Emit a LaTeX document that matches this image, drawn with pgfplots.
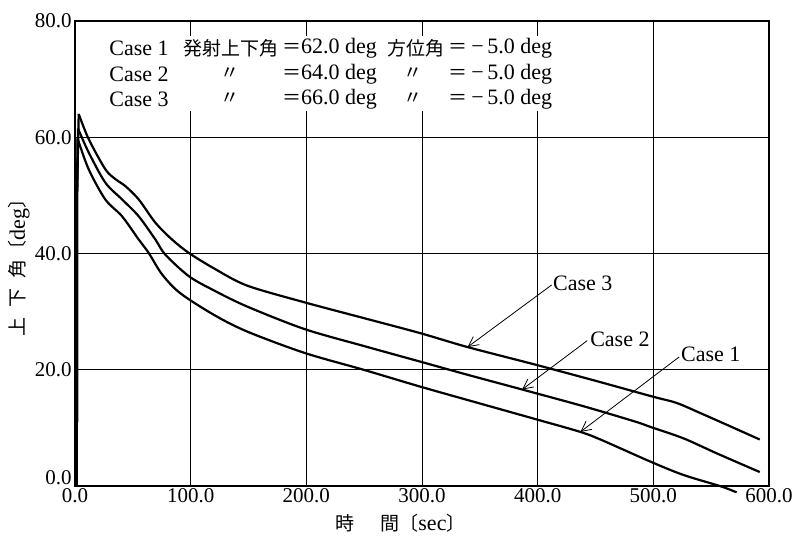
\documentclass[border=0pt]{standalone}
\usepackage{fontspec}
\setmainfont{Liberation Serif}
\newfontfamily\jp{Noto Sans CJK JP}
\usepackage{pgfplots}
\pgfplotsset{compat=1.18}
\usetikzlibrary{arrows.meta}

\newcommand{\lat}{\fontsize{11}{13}\selectfont}
\newcommand{\cjk}{\jp\fontsize{9.5}{11}\selectfont}

\begin{document}
\begin{tikzpicture}
\begin{axis}[
    scale only axis,
    width=347pt, height=232.5pt,
    xmin=0, xmax=600, ymin=0, ymax=80,
    xtick={0,100,...,600}, ytick={20,40,...,80},
    extra y ticks={0},
    extra y tick style={yticklabel style={yshift=4pt}},
    grid=major,
    major grid style={black, line width=0.45pt},
    major tick length=0pt,
    axis line style={line width=0.7pt},
    tick label style={font=\fontsize{10.5}{12}\selectfont},
    xticklabel style={inner sep=1pt},
    yticklabel style={inner sep=1.5pt},
    /pgf/number format/fixed,
    /pgf/number format/fixed zerofill,
    /pgf/number format/precision=1,
    /pgf/number format/1000 sep={},
    /pgf/number format/assume math mode=true,
    xlabel={{\cjk 時\hspace{13pt}間〔}{\lat sec}{\cjk 〕}},
    ylabel={{\cjk 上\hspace{5pt}下\hspace{5pt}角〔}{\lat deg}{\cjk 〕}},
    xlabel style={at={(axis description cs:0.469,-0.0796)}, anchor=center},
    ylabel style={at={(axis description cs:-0.0807,0.48)}, anchor=center},
    clip=false,
    curve/.style={black, line width=1.1pt},
]

% header box hides the grid
\fill[white] (axis cs:20,64.5) rectangle (axis cs:420,77.4);

% launch rise
\addplot[curve] coordinates {(1.6,0) (1.8,50) (3.2,64.0)};
\addplot[curve] coordinates {(1.6,0) (1.8,50) (2.6,61.5)};
\addplot[curve] coordinates {(1.6,0) (1.8,50) (2.2,59.8)};

% Case 3
\addplot[curve, smooth] coordinates {
 (3.2,64.0) (11.8,59.7) (26.2,54.5) (34.9,52.8) (43.5,51.6) (55.1,49.3)
 (69.5,45.3) (83.9,42.4) (98.4,40.1) (119.6,37.5) (148.5,34.5) (198.4,31.6)
 (249.4,28.9) (298.4,26.3) (339.4,23.9) (397.6,20.9) (450,18.1) (499,15.4)
 (520,14.3) (540,12.6) (565,10.4) (592,8.0)};
% Case 2
\addplot[curve, smooth] coordinates {
 (2.6,61.5) (11.8,57.4) (26.2,52.2) (40.7,49.3) (55.1,46.4) (69.5,42.4)
 (78.1,39.8) (98.4,36.1) (119.6,33.7) (148.5,30.9) (198.4,27.0) (249.4,24.1)
 (298.4,21.4) (340,19.1) (386.6,16.6) (440,13.7) (484,11.1) (497,10.2)
 (526,8.2) (555,5.6) (592,2.4)};
% Case 1
\addplot[curve, smooth] coordinates {
 (2.2,59.8) (11.8,54.5) (26.2,49.3) (40.7,46.4) (55.1,42.4) (63.7,40.1)
 (75.3,36.4) (90.8,33.2) (119.6,29.5) (148.5,26.6) (198.4,22.9) (249.4,20.0)
 (298.4,17.1) (350,14.2) (400,11.4) (437,9.3) (455.4,7.9) (497.4,4.2)
 (526,1.9) (559,-0.1) (572,-1.1)};

% header text
\node[anchor=west, inner sep=0] at (axis cs:29.4,75.3) {\lat Case 1};
\node[anchor=west, inner sep=0] at (axis cs:93.2,75.3) {\cjk 発射上下角};
\node[anchor=west, inner sep=0] at (axis cs:178.8,75.3) {{\cjk ＝}{\lat 62.0 deg}};
\node[anchor=west, inner sep=0] at (axis cs:270,75.3) {\cjk 方位角};
\node[anchor=west, inner sep=0] at (axis cs:322.7,75.3) {{\cjk ＝}{\lat\,−\,5.0 deg}};

\node[anchor=west, inner sep=0] at (axis cs:29.4,70.9) {\lat Case 2};
\node[inner sep=0] at (axis cs:134,70.9) {\cjk 〃};
\node[anchor=west, inner sep=0] at (axis cs:178.8,70.9) {{\cjk ＝}{\lat 64.0 deg}};
\node[inner sep=0] at (axis cs:292.4,70.9) {\cjk 〃};
\node[anchor=west, inner sep=0] at (axis cs:322.7,70.9) {{\cjk ＝}{\lat\,−\,5.0 deg}};

\node[anchor=west, inner sep=0] at (axis cs:29.4,66.6) {\lat Case 3};
\node[inner sep=0] at (axis cs:134,66.6) {\cjk 〃};
\node[anchor=west, inner sep=0] at (axis cs:178.8,66.6) {{\cjk ＝}{\lat 66.0 deg}};
\node[inner sep=0] at (axis cs:292.4,66.6) {\cjk 〃};
\node[anchor=west, inner sep=0] at (axis cs:322.7,66.6) {{\cjk ＝}{\lat\,−\,5.0 deg}};

% case labels with arrows
\node[anchor=west, inner sep=0.5pt] at (axis cs:412.2,34.8) {\lat Case 3};
\node[anchor=west, inner sep=0.5pt] at (axis cs:444.3,25.3) {\lat Case 2};
\node[anchor=west, inner sep=0.5pt] at (axis cs:522.9,22.6) {\lat Case 1};
\draw[line width=0.4pt, -{Straight Barb[length=5pt,width=5pt]}]
  (axis cs:412.2,34.6) -- (axis cs:339.4,23.9);
\draw[line width=0.4pt, -{Straight Barb[length=5pt,width=5pt]}]
  (axis cs:442.8,25.0) -- (axis cs:386.6,16.6);
\draw[line width=0.4pt, -{Straight Barb[length=5pt,width=5pt]}]
  (axis cs:522.3,22.2) -- (axis cs:436.9,9.3);
\end{axis}
\path ([xshift=-37.5pt,yshift=-25.5pt]current axis.south west)
      ([xshift=14pt,yshift=10.5pt]current axis.north east);
\end{tikzpicture}
\end{document}
